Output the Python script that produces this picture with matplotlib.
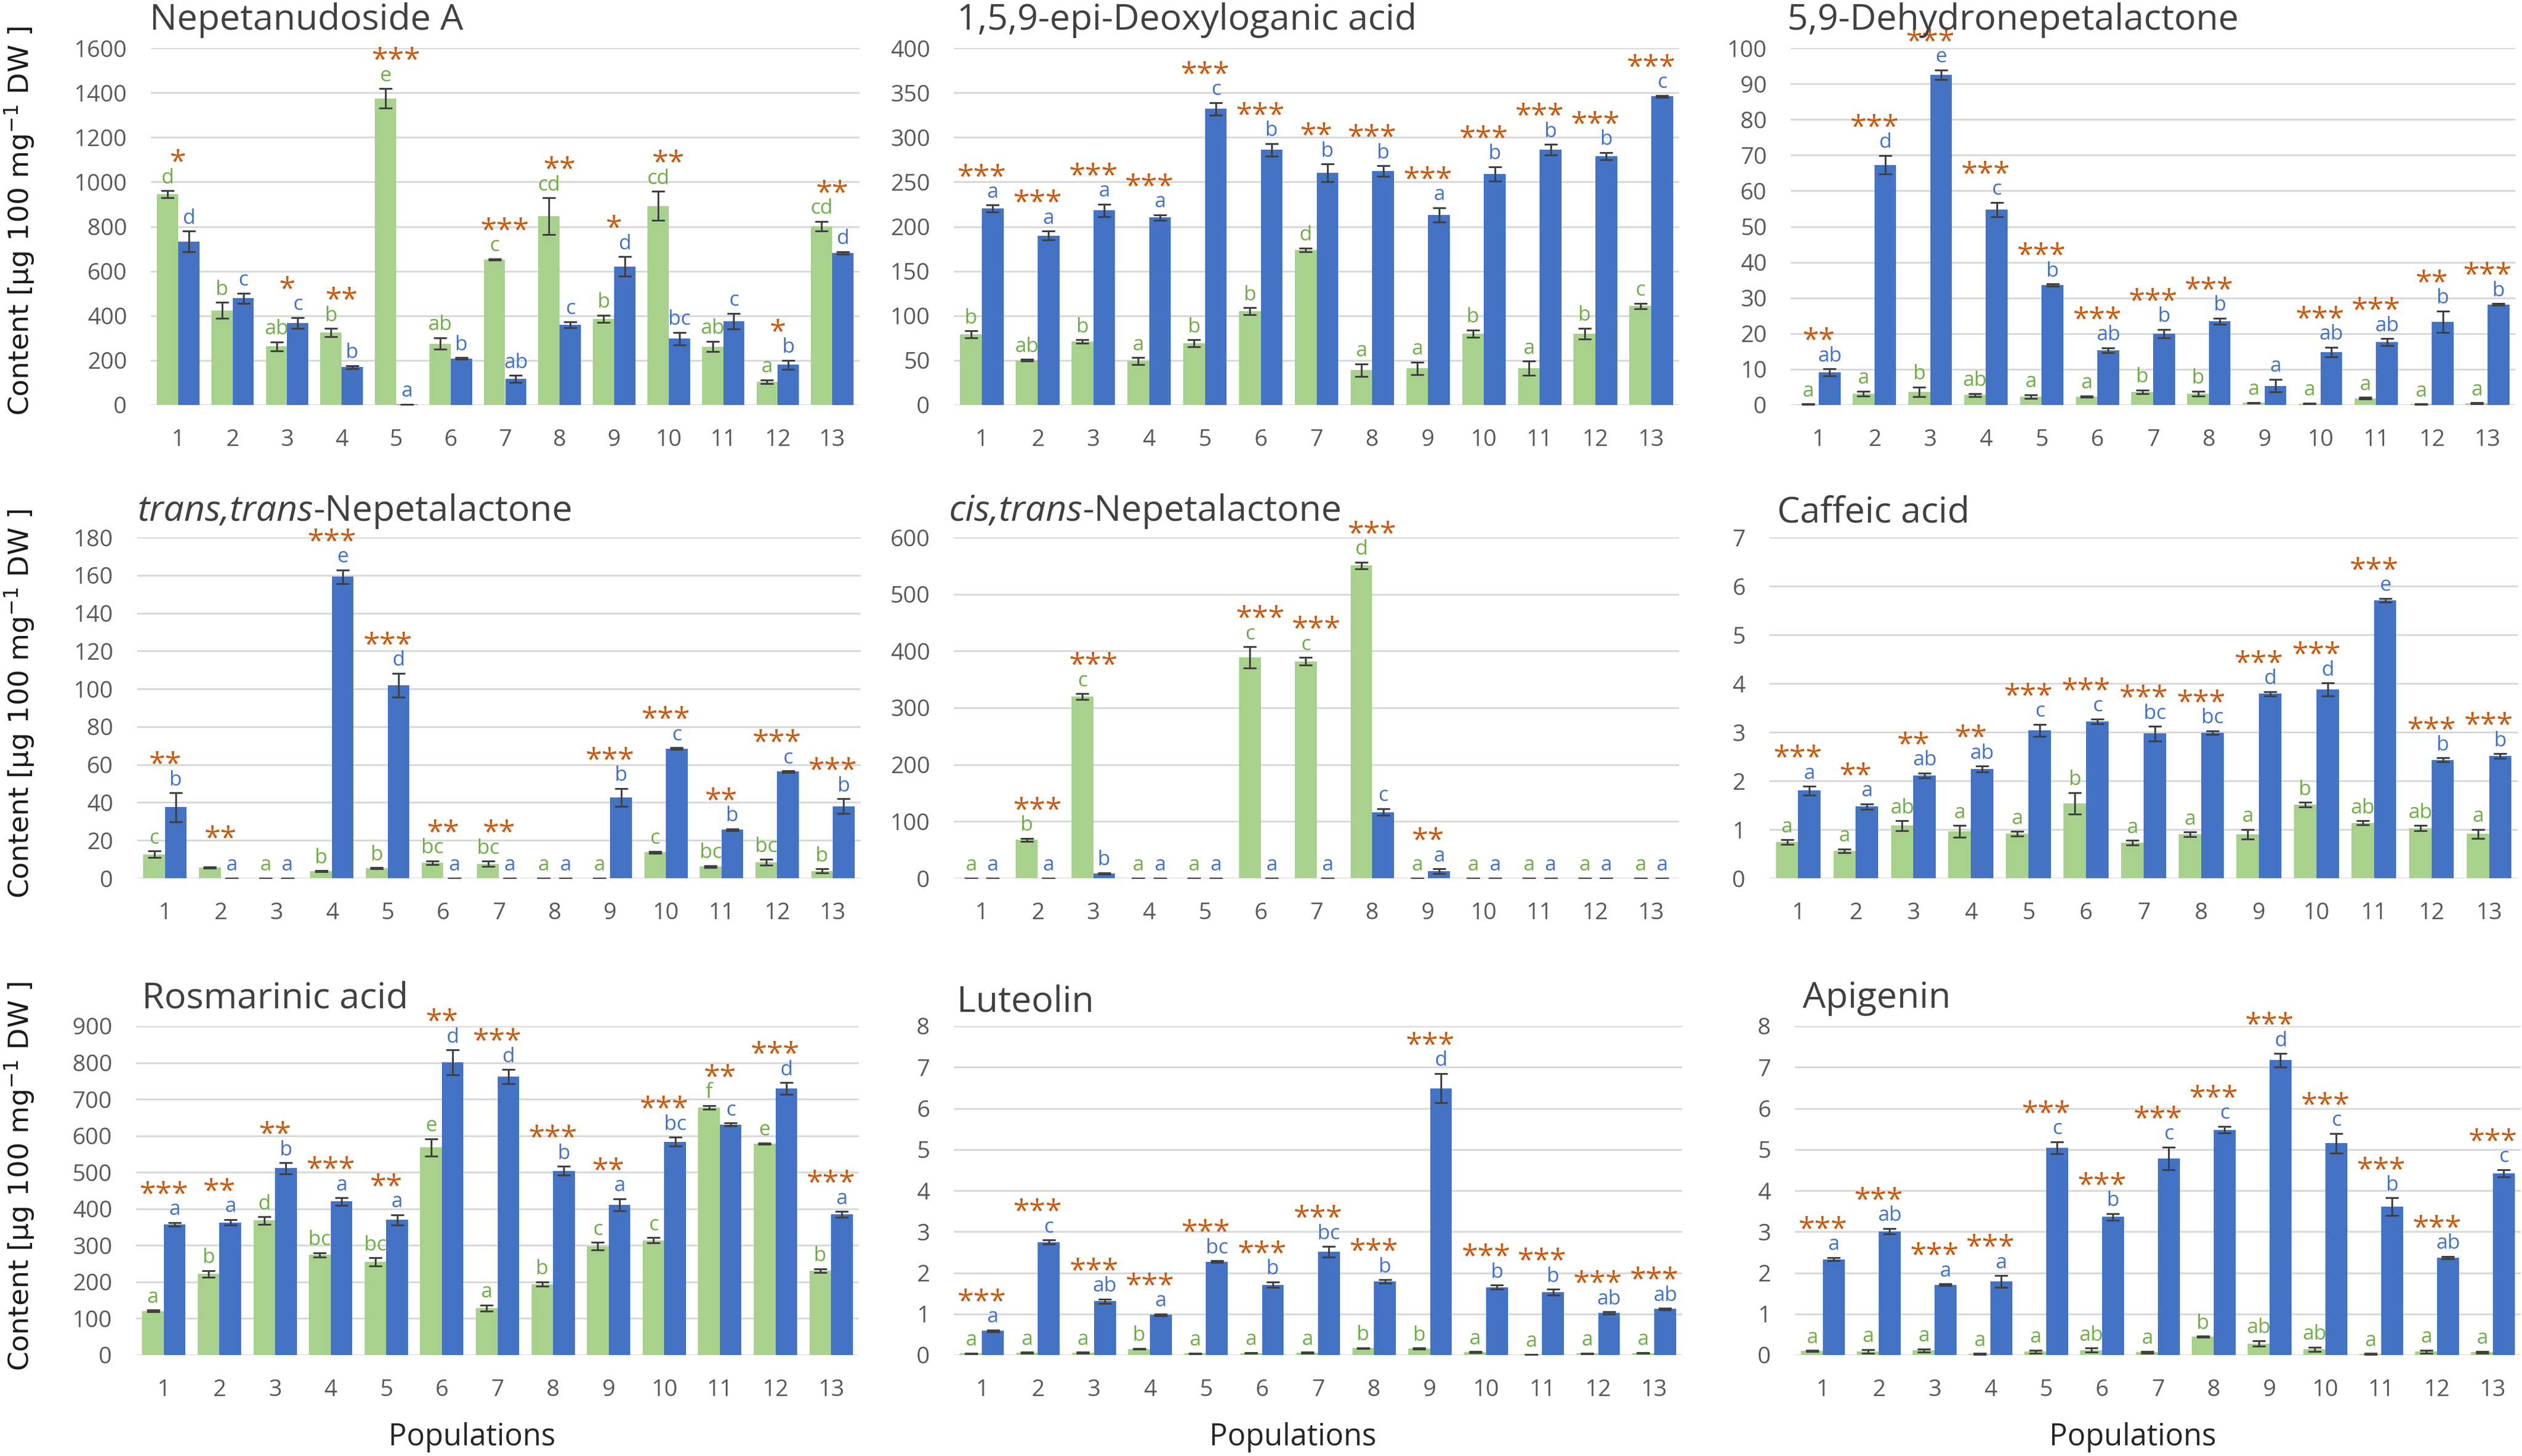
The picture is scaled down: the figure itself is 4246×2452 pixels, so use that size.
import matplotlib
matplotlib.use('Agg')
import matplotlib.pyplot as plt
import numpy as np

plt.rcParams['font.family'] = ['Open Sans', 'DejaVu Sans']

populations = [str(i) for i in range(1, 14)]

# ---------------- data ----------------
nep_green = [945, 424, 263, 324, 1375, 275, 653, 846, 386, 893, 262, 105, 801]
nep_green_err = [16, 36, 20, 19, 43, 26, 3, 83, 16, 65, 23, 8, 22]
nep_blue = [733, 478, 368, 170, 2, 208, 116, 360, 621, 298, 375, 180, 681]
nep_blue_err = [47, 23, 24, 7, 1, 4, 16, 13, 44, 28, 35, 20, 6]
nep_green_let = ['d', 'b', 'ab', 'b', 'e', 'ab', 'c', 'cd', 'b', 'cd', 'ab', 'a', 'cd']
nep_blue_let = ['d', 'c', 'c', 'b', 'a', 'b', 'ab', 'c', 'd', 'bc', 'c', 'b', 'd']
nep_stars = ['*', '', '*', '**', '***', '', '***', '**', '*', '**', '', '*', '**']

dla_green = [79, 50, 71, 49, 69, 105, 174, 39, 41, 80, 41, 80, 111]
dla_green_err = [4, 1, 2, 4, 4, 4, 2, 7, 7, 4, 8, 6, 3]
dla_blue = [220, 190, 218, 210, 332, 286, 260, 262, 213, 259, 286, 279, 346]
dla_blue_err = [4, 5, 7, 3, 7, 7, 10, 6, 8, 8, 6, 4, 1]
dla_green_let = ['b', 'ab', 'b', 'a', 'b', 'b', 'd', 'a', 'a', 'b', 'a', 'b', 'c']
dla_blue_let = ['a', 'a', 'a', 'a', 'c', 'b', 'b', 'b', 'a', 'b', 'b', 'b', 'c']
dla_stars = ['***', '***', '***', '***', '***', '***', '**', '***', '***', '***', '***', '***', '***']

dhn_green = [0.2, 3.2, 3.7, 2.8, 2.4, 2.3, 3.7, 3.2, 0.6, 0.4, 1.9, 0.25, 0.5]
dhn_green_err = [0.05, 0.7, 1.3, 0.4, 0.5, 0.2, 0.5, 0.7, 0.1, 0.1, 0.2, 0.05, 0.1]
dhn_blue = [9.1, 67.3, 92.5, 54.8, 33.6, 15.3, 20.0, 23.5, 5.4, 14.8, 17.6, 23.3, 28.2]
dhn_blue_err = [1.0, 2.6, 1.4, 2.0, 0.3, 0.7, 1.2, 0.8, 1.8, 1.4, 1.0, 3.0, 0.2]
dhn_green_let = ['a', 'a', 'b', 'ab', 'a', 'a', 'b', 'b', 'a', 'a', 'a', 'a', 'a']
dhn_blue_let = ['ab', 'd', 'e', 'c', 'b', 'ab', 'b', 'b', 'a', 'ab', 'ab', 'b', 'b']
dhn_stars = ['**', '***', '***', '***', '***', '***', '***', '***', '', '***', '***', '**', '***']

ttn_green = [12.7, 5.6, 0, 3.7, 5.3, 8.2, 7.6, 0, 0, 13.7, 6.2, 8.5, 3.9]
ttn_green_err = [1.7, 0.3, 0, 0.3, 0.3, 0.9, 1.4, 0, 0, 0.5, 0.5, 1.5, 1.1]
ttn_blue = [37.5, 0, 0, 159.2, 102.0, 0, 0, 0, 42.6, 68.4, 25.6, 56.3, 38.1]
ttn_blue_err = [7.6, 0, 0, 3.6, 6.3, 0, 0, 0, 4.8, 0.5, 0.5, 0.4, 3.9]
ttn_green_let = ['c', '', 'a', 'b', 'b', 'bc', 'bc', 'a', 'a', 'c', 'bc', 'bc', 'b']
ttn_blue_let = ['b', 'a', 'a', 'e', 'd', 'a', 'a', 'a', 'b', 'c', 'b', 'c', 'b']
ttn_stars = ['**', '**', '', '***', '***', '**', '**', '', '***', '***', '**', '***', '***']

ctn_green = [0, 67.5, 320, 0, 0, 388.6, 381.8, 550.6, 0, 0, 0, 0, 0]
ctn_green_err = [0, 3, 5, 0, 0, 19, 7, 6, 0, 0, 0, 0, 0]
ctn_blue = [0, 0, 8.8, 0, 0, 0, 0, 116.4, 12.5, 0, 0, 0, 0]
ctn_blue_err = [0, 0, 1, 0, 0, 0, 0, 6, 4, 0, 0, 0, 0]
ctn_green_let = ['a', 'b', 'c', 'a', 'a', 'c', 'c', 'd', 'a', 'a', 'a', 'a', 'a']
ctn_blue_let = ['a', 'a', 'b', 'a', 'a', 'a', 'a', 'c', 'a', 'a', 'a', 'a', 'a']
ctn_stars = ['', '***', '***', '', '', '***', '***', '***', '**', '', '', '', '']

caf_green = [0.74, 0.56, 1.08, 0.96, 0.91, 1.54, 0.73, 0.90, 0.90, 1.51, 1.14, 1.03, 0.91]
caf_green_err = [0.05, 0.04, 0.10, 0.12, 0.05, 0.22, 0.05, 0.05, 0.10, 0.05, 0.04, 0.05, 0.09]
caf_blue = [1.80, 1.47, 2.11, 2.24, 3.04, 3.22, 2.97, 2.99, 3.79, 3.88, 5.71, 2.43, 2.51]
caf_blue_err = [0.09, 0.06, 0.05, 0.06, 0.12, 0.05, 0.15, 0.04, 0.04, 0.13, 0.04, 0.04, 0.05]
caf_green_let = ['a', 'a', 'ab', 'a', 'a', 'b', 'a', 'a', 'a', 'b', 'ab', 'ab', 'a']
caf_blue_let = ['a', 'a', 'ab', 'ab', 'c', 'c', 'bc', 'bc', 'd', 'd', 'e', 'b', 'b']
caf_stars = ['***', '**', '**', '**', '***', '***', '***', '***', '***', '***', '***', '***', '***']

ros_green = [121, 222, 368, 274, 255, 568, 129, 194, 298, 314, 678, 578, 231]
ros_green_err = [2, 9, 10, 6, 11, 24, 8, 6, 10, 7, 5, 2, 5]
ros_blue = [358, 363, 511, 420, 370, 801, 762, 504, 411, 584, 631, 729, 385]
ros_blue_err = [5, 8, 15, 10, 14, 34, 19, 12, 17, 12, 4, 16, 8]
ros_green_let = ['a', 'b', 'd', 'bc', 'bc', 'e', 'a', 'b', 'c', 'c', 'f', 'e', 'b']
ros_blue_let = ['a', 'a', 'b', 'a', 'a', 'd', 'd', 'b', 'a', 'bc', 'c', 'd', 'a']
ros_stars = ['***', '**', '**', '***', '**', '**', '***', '***', '**', '***', '**', '***', '***']

lut_green = [0.04, 0.06, 0.06, 0.15, 0.04, 0.05, 0.06, 0.17, 0.16, 0.07, 0.015, 0.04, 0.05]
lut_green_err = [0.01, 0.01, 0.01, 0.01, 0.01, 0.01, 0.01, 0.01, 0.01, 0.01, 0.005, 0.01, 0.01]
lut_blue = [0.59, 2.75, 1.31, 0.98, 2.27, 1.71, 2.51, 1.79, 6.49, 1.65, 1.53, 1.02, 1.12]
lut_blue_err = [0.02, 0.05, 0.05, 0.02, 0.02, 0.07, 0.13, 0.04, 0.36, 0.05, 0.07, 0.03, 0.02]
lut_green_let = ['a', 'a', 'a', 'b', 'a', 'a', 'a', 'b', 'b', 'a', 'a', 'a', 'a']
lut_blue_let = ['a', 'c', 'ab', 'a', 'bc', 'b', 'bc', 'b', 'd', 'b', 'b', 'ab', 'ab']
lut_stars = ['***', '***', '***', '***', '***', '***', '***', '***', '***', '***', '***', '***', '***']

api_green = [0.10, 0.09, 0.11, 0.03, 0.08, 0.12, 0.07, 0.45, 0.28, 0.14, 0.03, 0.08, 0.07]
api_green_err = [0.01, 0.04, 0.04, 0.01, 0.04, 0.05, 0.02, 0.01, 0.07, 0.05, 0.01, 0.04, 0.02]
api_blue = [2.33, 3.01, 1.71, 1.79, 5.04, 3.36, 4.78, 5.48, 7.17, 5.15, 3.61, 2.37, 4.42]
api_blue_err = [0.04, 0.07, 0.02, 0.14, 0.15, 0.08, 0.28, 0.08, 0.16, 0.24, 0.21, 0.03, 0.09]
api_green_let = ['a', 'a', 'a', 'a', 'a', 'ab', 'a', 'b', 'ab', 'ab', 'a', 'a', 'a']
api_blue_let = ['a', 'ab', 'a', 'a', 'c', 'b', 'c', 'c', 'd', 'c', 'b', 'ab', 'c']
api_stars = ['***', '***', '***', '***', '***', '***', '***', '***', '***', '***', '***', '***', '***']

panels = [
    (('', 'Nepetanudoside A'), 1600, 200, nep_green, nep_green_err, nep_blue, nep_blue_err, nep_green_let, nep_blue_let, nep_stars),
    (('', '1,5,9-epi-Deoxyloganic acid'), 400, 50, dla_green, dla_green_err, dla_blue, dla_blue_err, dla_green_let, dla_blue_let, dla_stars),
    (('', '5,9-Dehydronepetalactone'), 100, 10, dhn_green, dhn_green_err, dhn_blue, dhn_blue_err, dhn_green_let, dhn_blue_let, dhn_stars),
    (('trans,trans', '-Nepetalactone'), 180, 20, ttn_green, ttn_green_err, ttn_blue, ttn_blue_err, ttn_green_let, ttn_blue_let, ttn_stars),
    (('cis,trans', '-Nepetalactone'), 600, 100, ctn_green, ctn_green_err, ctn_blue, ctn_blue_err, ctn_green_let, ctn_blue_let, ctn_stars),
    (('', 'Caffeic acid'), 7, 1, caf_green, caf_green_err, caf_blue, caf_blue_err, caf_green_let, caf_blue_let, caf_stars),
    (('', 'Rosmarinic acid'), 900, 100, ros_green, ros_green_err, ros_blue, ros_blue_err, ros_green_let, ros_blue_let, ros_stars),
    (('', 'Luteolin'), 8, 1, lut_green, lut_green_err, lut_blue, lut_blue_err, lut_green_let, lut_blue_let, lut_stars),
    (('', 'Apigenin'), 8, 1, api_green, api_green_err, api_blue, api_blue_err, api_green_let, api_blue_let, api_stars),
]

# ---------------- styling / layout ----------------
GREEN_BAR = '#A9D18E'
BLUE_BAR = '#4472C4'
GREEN_TXT = '#70AD47'
BLUE_TXT = '#4472C4'
STAR_COL = '#C55A11'
ERR_COL = '#404040'
GRID_COL = '#D9D9D9'
TITLE_COL = '#404040'
TICK_COL = '#595959'

W, H = 4246, 2452
fig = plt.figure(figsize=(W / 100, H / 100), dpi=100)

rows_px = [(81, 682), (905, 1479), (1728, 2282)]
cols_px = [[(254, 1447), (1606, 2827), (3015, 4235)],
           [(231, 1449), (1606, 2827), (2979, 4239)],
           [(229, 1446), (1606, 2832), (3022, 4244)]]
title_px = [[(252, 50), (1611, 50), (3009, 50)],
            [(231, 877), (1597, 877), (2992, 879)],
            [(239, 1698), (1611, 1703), (3035, 1697)]]
ylabel_center = [372, 1185, 1981]

bw = 0.39
x = np.arange(len(populations))

for k, (title, ymax, ystep, g, ge, b, be, gl, bl, st) in enumerate(panels):
    r, c = divmod(k, 3)
    top, bot = rows_px[r]
    left, right = cols_px[r][c]
    ax = fig.add_axes([left / W, 1 - bot / H, (right - left) / W, (bot - top) / H])
    g = np.array(g, float); ge = np.array(ge, float)
    b = np.array(b, float); be = np.array(be, float)
    ax.bar(x - bw / 2, g, bw, color=GREEN_BAR, zorder=2)
    ax.bar(x + bw / 2, b, bw, color=BLUE_BAR, zorder=2)
    for xs, v, e in ((x - bw / 2, g, ge), (x + bw / 2, b, be)):
        ax.errorbar(xs, v, yerr=e, fmt='none', ecolor=ERR_COL, elinewidth=2.2,
                    capsize=8, capthick=2.2, zorder=3)
    ax.set_xlim(-0.5, len(populations) - 0.5)
    ax.set_ylim(0, ymax)
    ax.set_yticks(np.arange(0, ymax + ystep / 2, ystep))
    ax.set_xticks(x, populations)
    ax.tick_params(length=0, pad=29, labelsize=28, labelcolor=TICK_COL)
    for s in ax.spines.values():
        s.set_visible(False)
    ax.set_axisbelow(True)
    ax.grid(axis='y', color=GRID_COL, linewidth=2.2)

    for i in range(len(populations)):
        if gl[i]:
            ax.annotate(gl[i], (x[i] - bw / 2, g[i] + ge[i]), xytext=(0, 9), textcoords='offset points',
                        ha='center', va='baseline', color=GREEN_TXT, fontsize=25, annotation_clip=False)
        if bl[i]:
            ax.annotate(bl[i], (x[i] + bw / 2, b[i] + be[i]), xytext=(0, 9), textcoords='offset points',
                        ha='center', va='baseline', color=BLUE_TXT, fontsize=25, annotation_clip=False)
        if st[i]:
            tp = max(g[i] + ge[i], b[i] + be[i])
            ax.annotate(st[i], (x[i], tp), xytext=(0, 23), textcoords='offset points',
                        ha='center', va='baseline', color=STAR_COL, fontsize=36, annotation_clip=False)

    # title (italic prefix + regular part)
    tx, ty = title_px[r][c]
    ital, norm = title
    if ital:
        t1 = fig.text(tx / W, 1 - ty / H, ital, style='italic', fontsize=44, color=TITLE_COL, va='baseline', ha='left')
        ax.annotate(norm, xy=(1, 0), xycoords=t1, va='bottom', ha='left', fontsize=44,
                    color=TITLE_COL, annotation_clip=False)
    else:
        fig.text(tx / W, 1 - ty / H, norm, fontsize=44, color=TITLE_COL, va='baseline', ha='left')

    if r == 2:
        fig.text((left + 0.465 * (right - left)) / W, 1 - 2434 / H, 'Populations', fontsize=36.5,
                 color='#262626', ha='center', va='baseline')

for r in range(3):
    fig.text(33 / W, 1 - ylabel_center[r] / H, r'Content [µg 100 mg$^{\mathregular{-1}}$ DW ]',
             rotation=90, ha='center', va='center', fontsize=34, family='DejaVu Sans', color='#1a1a1a')

fig.savefig('out.png', dpi=100)
